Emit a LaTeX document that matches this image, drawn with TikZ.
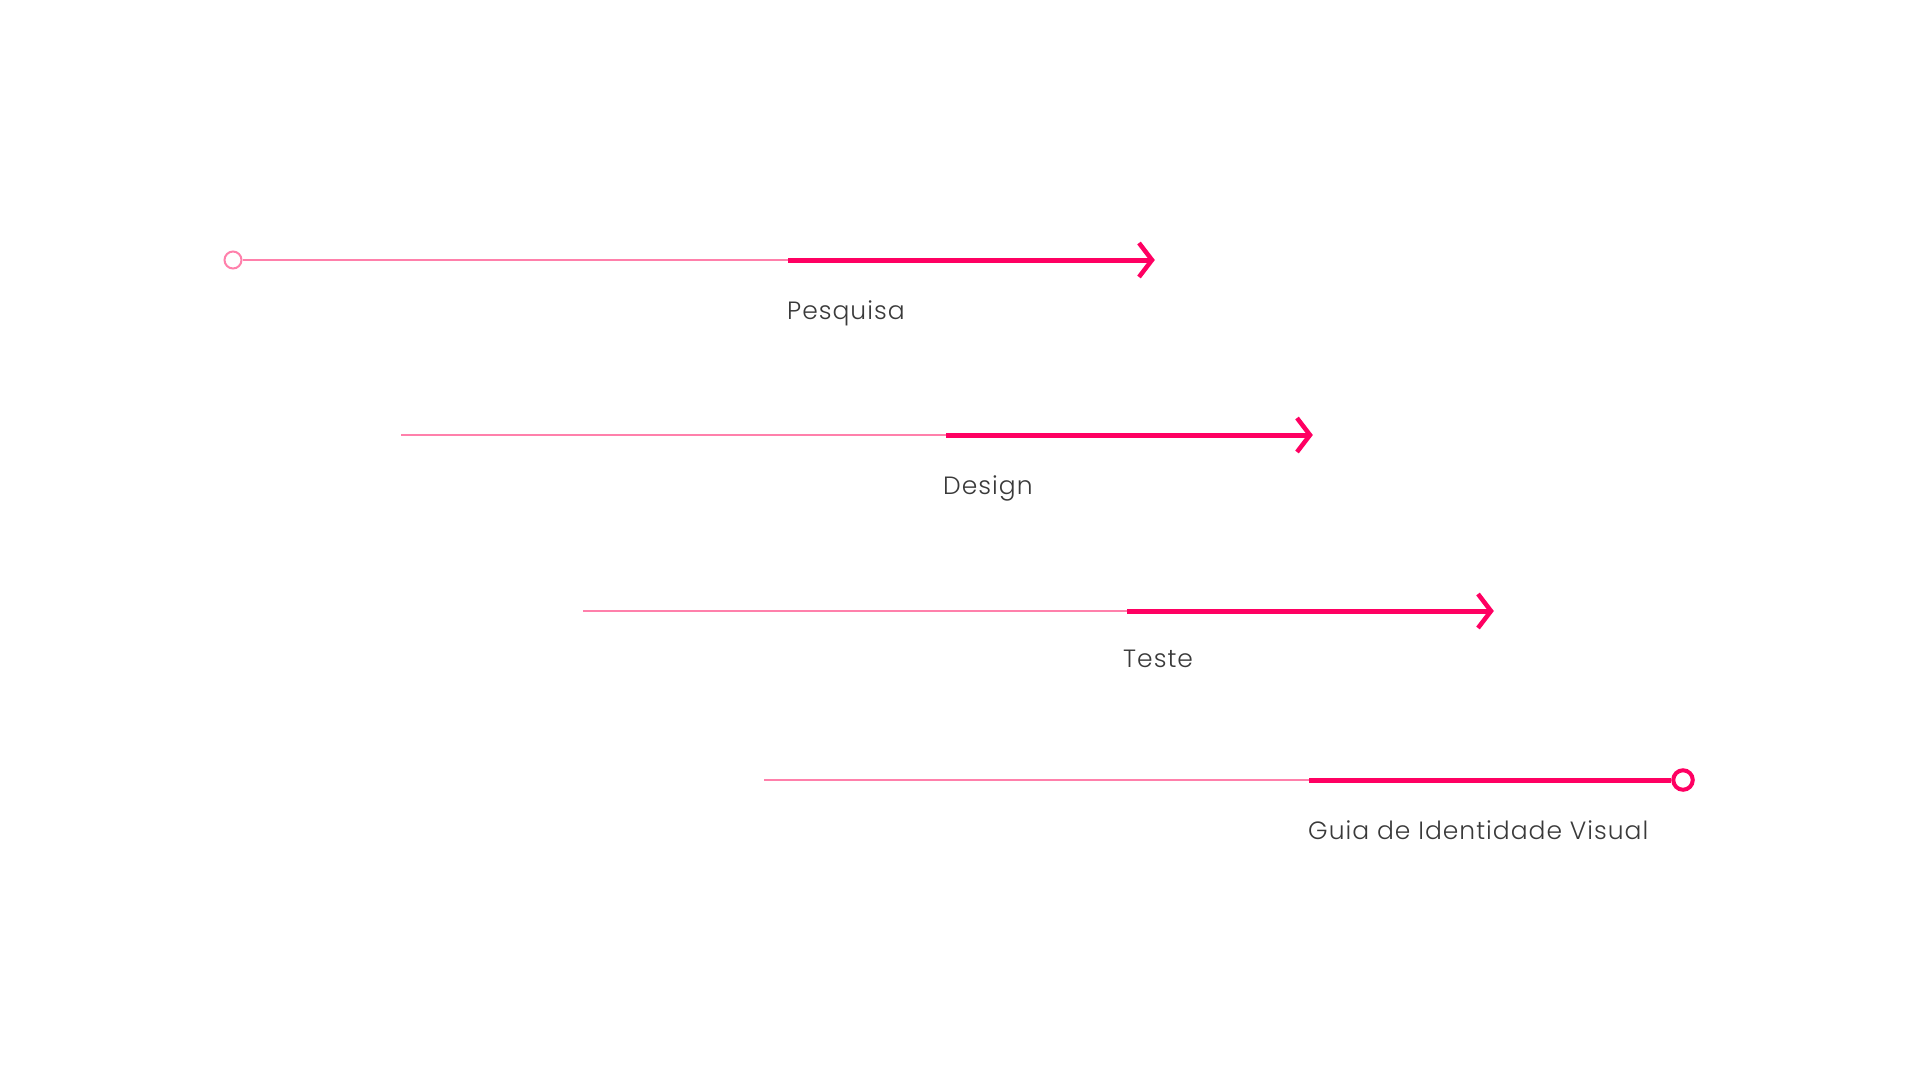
\documentclass[tikz,border=0pt]{standalone}
\usepackage{fontspec}
\setmainfont{Poppins}[UprightFont=* Light]
\newfontfamily\labelfont{Poppins}[UprightFont=* Light, LetterSpace=4]
\definecolor{thinpink}{HTML}{FF80AB}
\definecolor{hotpink}{HTML}{FF0062}
\definecolor{labelgray}{HTML}{3A3A3A}
\begin{document}
\begin{tikzpicture}[x=1pt,y=-1pt,
  thinline/.style={draw=thinpink,line width=2pt},
  thickline/.style={draw=hotpink,line width=5pt},
  chevron/.style={draw=hotpink,line width=4.5pt,line join=miter},
  label/.style={anchor=base west,inner sep=0pt,text=labelgray,font=\labelfont\fontsize{25}{30}\selectfont}]
\useasboundingbox (0,0) rectangle (1920,1080);
% row 1
\node[circle,draw=thinpink,line width=2pt,minimum size=17pt,inner sep=0pt] (c1) at (233,260) {};
\coordinate (m1) at (788,260);
\coordinate (t1) at (1152,260);
\coordinate (a1) at (1139,243);
\coordinate (b1) at (1139,277);
\draw[thinline] (c1.east) -- (m1);
\draw[thickline] (m1) -- (t1);
\draw[chevron] (a1) -- (t1) -- (b1);
\node[label] (l1) at (787,319) {Pesquisa};
% row 2
\coordinate (s2) at (401,435);
\coordinate (m2) at (946,435);
\coordinate (t2) at (1310,435);
\coordinate (a2) at (1297,418);
\coordinate (b2) at (1297,452);
\draw[thinline] (s2) -- (m2);
\draw[thickline] (m2) -- (t2);
\draw[chevron] (a2) -- (t2) -- (b2);
\node[label] (l2) at (943,494) {Design};
% row 3
\coordinate (s3) at (583,611);
\coordinate (m3) at (1127,611);
\coordinate (t3) at (1491,611);
\coordinate (a3) at (1478,594);
\coordinate (b3) at (1478,628);
\draw[thinline] (s3) -- (m3);
\draw[thickline] (m3) -- (t3);
\draw[chevron] (a3) -- (t3) -- (b3);
\node[label] (l3) at (1123,667) {Teste};
% row 4
\coordinate (s4) at (764,780);
\coordinate (m4) at (1309,780);
\node[circle,draw=hotpink,line width=4pt,minimum size=19.5pt,inner sep=0pt] (c4) at (1683,780) {};
\draw[thinline] (s4) -- (m4);
\draw[thickline] (m4) -- (c4.west);
\node[label] (l4) at (1308,839) {Guia de Identidade Visual};
\end{tikzpicture}
\end{document}
